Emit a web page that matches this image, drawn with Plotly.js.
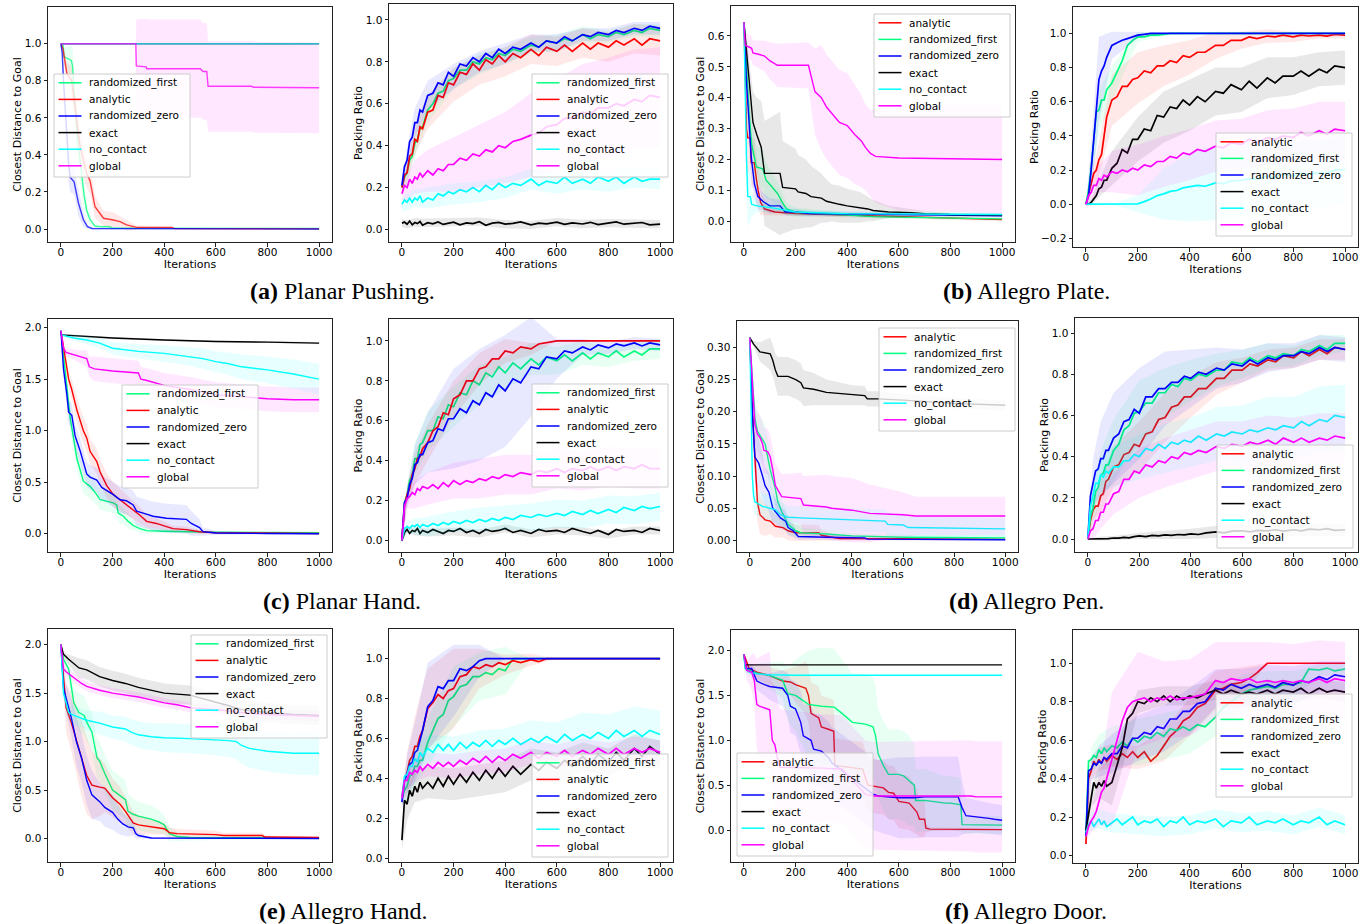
<!DOCTYPE html>
<html><head><meta charset="utf-8">
<script src="https://cdn.plot.ly/plotly-3.0.1.min.js"></script>
<style>html,body{margin:0;padding:0;background:#fff;}#chart{width:1371px;height:924px;}</style>
</head><body><div id="chart"></div>
<script>
// ---------------- shared grids and tick labels ----------------
const ITER = [0,10,20,30,40,50,60,70,80,100,120,140,160,180,200,225,250,275,300,325,350,375,400,430,460,500,530,560,600,630,660,700,730,760,800,830,860,900,930,960,1000];
const BAND_ITER = [0,20,50,100,200,300,400,500,600,700,800,900,1000];
const X_TICKS = [0,200,400,600,800,1000];
const X_TICK_TEXT = ['0','200','400','600','800','1000'];
const Y_TICKS_UNIT = [0,0.2,0.4,0.6,0.8,1.0];
const Y_TEXT_UNIT = ['0.0','0.2','0.4','0.6','0.8','1.0'];
const Y_TICKS_B1 = [0,0.1,0.2,0.3,0.4,0.5,0.6];
const Y_TEXT_B1 = ['0.0','0.1','0.2','0.3','0.4','0.5','0.6'];
const Y_TICKS_B2 = [-0.2,0,0.2,0.4,0.6,0.8,1.0];
const Y_TEXT_B2 = ['\u22120.2','0.0','0.2','0.4','0.6','0.8','1.0'];
const Y_TICKS_TWO = [0,0.5,1.0,1.5,2.0];
const Y_TEXT_TWO = ['0.0','0.5','1.0','1.5','2.0'];
const Y_TICKS_D1 = [0,0.05,0.10,0.15,0.20,0.25,0.30];
const Y_TEXT_D1 = ['0.00','0.05','0.10','0.15','0.20','0.25','0.30'];
const CAPTIONS = ['<b>(a)</b> Planar Pushing.','<b>(b)</b> Allegro Plate.','<b>(c)</b> Planar Hand.','<b>(d)</b> Allegro Pen.','<b>(e)</b> Allegro Hand.','<b>(f)</b> Allegro Door.'];

// ---------------- (a) Planar Pushing: distance ----------------
const a1_rf_x = [0,8,12,40,45,55,62,70,81,90,100,113,132,150,190,200,1000];
const a1_rf_y = [1.0,1.0,0.93,0.91,0.88,0.65,0.52,0.42,0.28,0.18,0.10,0.05,0.016,0.013,0.012,0.004,0.003];
const a1_rf_s = [0,0.02,0.05,0.08,0.1,0.12,0.12,0.12,0.1,0.08,0.05,0.03,0.01,0.01,0.01,0.005,0.003];
const a1_ana_x = [0,8,23,42,60,75,100,113,132,152,165,203,229,254,280,293,430,440,1000];
const a1_ana_y = [1.0,0.97,0.84,0.80,0.60,0.44,0.30,0.26,0.12,0.085,0.058,0.049,0.04,0.022,0.013,0.009,0.008,0.002,0.001];
const a1_ana_s = [0,0.03,0.06,0.08,0.1,0.1,0.08,0.07,0.06,0.05,0.04,0.04,0.03,0.03,0.02,0.01,0.005,0,0];
const a1_rz_x = [0,5,10,20,30,36,51,68,87,103,120,1000];
const a1_rz_y = [1.0,0.95,0.80,0.55,0.35,0.28,0.255,0.14,0.05,0.013,0.003,0.0];
const a1_rz_s = [0,0.03,0.08,0.1,0.1,0.08,0.07,0.07,0.04,0.01,0.005,0];
const a1_exa_x = [0,1000], a1_exa_y = [1.0,1.0], a1_exa_s = [0,0];
const a1_noc_x = [0,1000], a1_noc_y = [1.0,1.0], a1_noc_s = [0,0];
const a1_glo_x = [0,290,292,330,332,540,550,565,570,740,745,1000];
const a1_glo_y = [1.0,1.0,0.88,0.875,0.865,0.865,0.85,0.85,0.77,0.77,0.765,0.762];
const a1_glo_s = [0,0,0.25,0.26,0.265,0.265,0.26,0.26,0.245,0.245,0.245,0.245];

// ---------------- (a) Planar Pushing: packing ----------------
const a2_ana = [0.20,0.26,0.27,0.35,0.36,0.43,0.42,0.49,0.48,0.56,0.57,0.64,0.63,0.70,0.69,0.75,0.74,0.79,0.76,0.81,0.79,0.83,0.80,0.84,0.82,0.86,0.83,0.87,0.85,0.88,0.85,0.89,0.86,0.89,0.87,0.90,0.88,0.91,0.88,0.91,0.90];
const a2_rf = [0.20,0.25,0.27,0.33,0.35,0.41,0.43,0.48,0.49,0.57,0.60,0.65,0.66,0.71,0.72,0.76,0.76,0.80,0.79,0.82,0.81,0.84,0.83,0.86,0.85,0.88,0.87,0.90,0.89,0.91,0.90,0.93,0.91,0.93,0.92,0.94,0.93,0.95,0.94,0.96,0.95];
const a2_rz = [0.21,0.30,0.33,0.42,0.44,0.51,0.51,0.57,0.56,0.64,0.65,0.70,0.69,0.75,0.73,0.79,0.78,0.82,0.80,0.84,0.82,0.86,0.84,0.87,0.86,0.89,0.87,0.90,0.89,0.92,0.90,0.93,0.92,0.94,0.93,0.95,0.94,0.96,0.95,0.97,0.96];
const a2_exa = [0.030,0.035,0.025,0.040,0.022,0.033,0.028,0.038,0.020,0.032,0.027,0.036,0.024,0.030,0.035,0.022,0.031,0.028,0.037,0.020,0.030,0.034,0.025,0.029,0.036,0.022,0.030,0.027,0.035,0.024,0.031,0.026,0.034,0.023,0.030,0.036,0.025,0.028,0.033,0.022,0.025];
const a2_noc = [0.12,0.14,0.13,0.15,0.13,0.15,0.14,0.16,0.13,0.15,0.14,0.17,0.16,0.18,0.17,0.19,0.18,0.20,0.18,0.21,0.19,0.22,0.20,0.22,0.21,0.24,0.21,0.23,0.22,0.25,0.22,0.24,0.22,0.25,0.23,0.25,0.22,0.25,0.23,0.24,0.24];
const a2_glo = [0.17,0.21,0.20,0.24,0.22,0.25,0.24,0.27,0.25,0.28,0.26,0.29,0.28,0.31,0.31,0.34,0.33,0.36,0.35,0.38,0.37,0.40,0.39,0.42,0.43,0.45,0.46,0.49,0.50,0.53,0.53,0.56,0.55,0.58,0.58,0.60,0.59,0.62,0.61,0.64,0.63];
const a2_ana_sd = [0.02,0.05,0.07,0.08,0.08,0.07,0.07,0.07,0.07,0.07,0.07,0.07,0.07];
const a2_rf_sd = [0.02,0.05,0.06,0.06,0.05,0.05,0.04,0.04,0.04,0.04,0.03,0.03,0.03];
const a2_rz_sd = [0.02,0.06,0.07,0.07,0.06,0.05,0.05,0.04,0.04,0.03,0.03,0.03,0.03];
const a2_exa_sd = [0.02,0.02,0.02,0.02,0.02,0.02,0.02,0.02,0.02,0.02,0.02,0.02,0.02];
const a2_noc_sd = [0.03,0.04,0.04,0.05,0.05,0.05,0.05,0.05,0.05,0.05,0.05,0.05,0.05];
const a2_glo_sd = [0.03,0.06,0.08,0.1,0.13,0.15,0.17,0.2,0.22,0.23,0.24,0.24,0.24];

// ---------------- (b) Allegro Plate: distance ----------------
const b1_ana_x = [0,5,10,15,25,28,40,48,55,65,80,100,120,200,400,600,800,1000];
const b1_ana_y = [0.645,0.5,0.3,0.27,0.27,0.19,0.19,0.14,0.1,0.06,0.04,0.035,0.03,0.025,0.02,0.015,0.01,0.006];
const b1_ana_s = [0,0.1,0.12,0.12,0.1,0.08,0.08,0.07,0.06,0.04,0.02,0.015,0.01,0.008,0.006,0.005,0.005,0.005];
const b1_rf_x = [0,5,10,20,30,48,73,86,100,130,150,165,200,300,400,500,700,800,1000];
const b1_rf_y = [0.645,0.6,0.5,0.35,0.25,0.176,0.17,0.133,0.12,0.09,0.06,0.04,0.03,0.025,0.02,0.015,0.012,0.01,0.008];
const b1_rf_s = [0,0.03,0.06,0.08,0.08,0.07,0.06,0.06,0.05,0.04,0.03,0.02,0.015,0.01,0.008,0.006,0.005,0.005,0.005];
const b1_rz_x = [0,5,10,20,28,41,54,73,100,140,150,160,200,250,600,800,1000];
const b1_rz_y = [0.645,0.55,0.45,0.32,0.21,0.12,0.08,0.065,0.05,0.05,0.04,0.03,0.03,0.025,0.022,0.02,0.018];
const b1_rz_s = [0,0.05,0.08,0.08,0.07,0.05,0.04,0.03,0.025,0.02,0.015,0.01,0.01,0.008,0.006,0.005,0.005];
const b1_exa_x = [0,10,20,35,50,67,80,140,150,200,210,240,260,300,320,340,370,400,450,480,500,560,650,700,800,1000];
const b1_exa_y = [0.645,0.55,0.45,0.32,0.28,0.24,0.155,0.155,0.11,0.105,0.095,0.09,0.08,0.075,0.065,0.06,0.055,0.05,0.045,0.04,0.035,0.03,0.028,0.025,0.022,0.02];
const b1_exa_s = [0,0.05,0.08,0.1,0.12,0.15,0.17,0.2,0.15,0.13,0.12,0.11,0.1,0.08,0.07,0.06,0.06,0.055,0.05,0.04,0.035,0.02,0.012,0.008,0.006,0.005];
const b1_noc_x = [0,5,10,15,25,30,50,100,200,400,1000];
const b1_noc_y = [0.645,0.4,0.2,0.08,0.08,0.055,0.05,0.045,0.03,0.025,0.022];
const b1_noc_s = [0,0.15,0.12,0.1,0.08,0.04,0.02,0.015,0.01,0.008,0.006];
const b1_glo_x = [0,5,30,35,60,80,100,130,250,260,275,300,320,340,370,400,430,455,470,490,510,600,1000];
const b1_glo_y = [0.645,0.57,0.56,0.545,0.54,0.535,0.52,0.505,0.505,0.47,0.42,0.40,0.37,0.35,0.32,0.31,0.28,0.26,0.24,0.22,0.21,0.205,0.2];
const b1_glo_s = [0,0.04,0.04,0.04,0.045,0.05,0.06,0.07,0.075,0.1,0.14,0.17,0.17,0.17,0.17,0.17,0.16,0.15,0.14,0.14,0.15,0.17,0.175];

// ---------------- (b) Allegro Plate: packing ----------------
const b2_ana = [0.0,0.06,0.11,0.18,0.20,0.26,0.29,0.41,0.51,0.61,0.63,0.69,0.69,0.73,0.74,0.78,0.77,0.81,0.81,0.84,0.83,0.87,0.86,0.89,0.89,0.93,0.93,0.96,0.96,0.98,0.97,0.985,0.98,0.99,0.98,0.99,0.985,0.99,0.985,0.995,0.99];
const b2_rf = [0,0.08,0.21,0.37,0.54,0.55,0.61,0.61,0.67,0.71,0.78,0.84,0.93,0.96,0.98,0.98,0.99,0.99,0.995,1,1,1,1,1,1,1,1,1,1,1,1,1,1,1,1,1,1,1,1,1,1];
const b2_rz = [0,0.05,0.2,0.38,0.56,0.73,0.78,0.81,0.86,0.93,0.945,0.96,0.97,0.98,0.99,0.995,1,1,1,1,1,1,1,1,1,1,1,1,1,1,1,1,1,1,1,1,1,1,1,1,1];
const b2_exa = [0,0,0.01,0.03,0.05,0.09,0.10,0.14,0.14,0.21,0.24,0.32,0.30,0.38,0.38,0.44,0.43,0.52,0.51,0.57,0.56,0.61,0.58,0.63,0.60,0.66,0.65,0.70,0.67,0.72,0.68,0.74,0.71,0.75,0.75,0.78,0.75,0.79,0.77,0.81,0.80];
const b2_noc = [0,0,0,0,0,0,0,0,0,0,0,0,0,0,0.002,0.015,0.03,0.05,0.06,0.075,0.08,0.095,0.10,0.11,0.105,0.125,0.12,0.135,0.14,0.15,0.145,0.165,0.16,0.175,0.165,0.18,0.175,0.185,0.18,0.20,0.20];
const b2_glo = [0,0.05,0.07,0.11,0.11,0.15,0.14,0.17,0.16,0.19,0.18,0.20,0.19,0.21,0.20,0.23,0.22,0.25,0.25,0.28,0.27,0.30,0.29,0.32,0.31,0.34,0.33,0.36,0.35,0.38,0.36,0.39,0.38,0.40,0.39,0.42,0.40,0.43,0.41,0.44,0.43];
const b2_ana_sd = [0.01,0.05,0.1,0.15,0.15,0.12,0.1,0.08,0.05,0.04,0.03,0.02,0.02];
const b2_rf_sd = [0.01,0.08,0.12,0.1,0.03,0.01,0,0,0,0,0,0,0];
const b2_rz_sd = [0.01,0.15,0.25,0.08,0.02,0,0,0,0,0,0,0,0];
const b2_exa_sd = [0.01,0.02,0.05,0.1,0.13,0.15,0.15,0.14,0.13,0.12,0.11,0.1,0.1];
const b2_noc_sd = [0,0,0,0,0.05,0.15,0.2,0.22,0.22,0.2,0.2,0.2,0.2];
const b2_glo_sd = [0.02,0.05,0.08,0.12,0.15,0.15,0.15,0.15,0.15,0.16,0.17,0.17,0.17];

// ---------------- (c) Planar Hand: distance ----------------
const c1_rf_x = [0,10,20,36,62,87,113,139,152,203,216,222,242,261,280,306,332,400,600,1000];
const c1_rf_y = [1.97,1.7,1.5,1.12,0.73,0.51,0.46,0.38,0.33,0.3,0.28,0.2,0.17,0.12,0.08,0.05,0.03,0.025,0.015,0.01];
const c1_rf_s = [0,0.05,0.1,0.12,0.12,0.12,0.12,0.1,0.1,0.1,0.1,0.09,0.08,0.07,0.05,0.04,0.03,0.02,0.01,0.01];
const c1_ana_x = [0,17,30,42,62,87,100,113,139,152,177,203,229,254,280,306,332,370,409,434,486,537,600,800,1000];
const c1_ana_y = [1.97,1.72,1.5,1.4,1.2,1.0,0.93,0.8,0.7,0.6,0.47,0.38,0.33,0.28,0.23,0.18,0.12,0.1,0.07,0.05,0.04,0.02,0.01,0.005,0.003];
const c1_ana_s = [0,0.05,0.08,0.1,0.12,0.13,0.13,0.12,0.12,0.12,0.12,0.12,0.11,0.1,0.09,0.08,0.06,0.05,0.04,0.03,0.03,0.02,0.01,0.005,0.003];
const c1_rz_x = [0,10,23,30,42,55,75,87,100,113,139,158,177,203,229,254,280,293,319,357,409,486,505,537,550,600,800,1000];
const c1_rz_y = [1.97,1.6,1.35,1.18,1.15,0.95,0.8,0.7,0.58,0.55,0.52,0.45,0.42,0.38,0.33,0.32,0.28,0.22,0.2,0.17,0.15,0.14,0.1,0.06,0.02,0.008,0.002,0.0];
const c1_rz_s = [0,0.08,0.12,0.12,0.12,0.12,0.12,0.12,0.12,0.12,0.12,0.12,0.12,0.12,0.13,0.13,0.14,0.14,0.14,0.14,0.14,0.14,0.12,0.08,0.04,0.02,0.005,0];
const c1_exa_x = [0,200,400,600,800,1000];
const c1_exa_y = [1.93,1.9,1.88,1.865,1.86,1.85];
const c1_exa_s = [0.01,0.01,0.01,0.01,0.01,0.01];
const c1_noc_x = [0,50,100,150,200,300,400,500,550,600,650,700,800,900,1000];
const c1_noc_y = [1.93,1.9,1.88,1.85,1.8,1.77,1.75,1.72,1.7,1.67,1.65,1.62,1.59,1.55,1.5];
const c1_noc_s = [0.01,0.03,0.04,0.05,0.06,0.07,0.08,0.09,0.1,0.1,0.11,0.12,0.13,0.14,0.15];
const c1_glo_x = [0,10,20,50,70,100,110,130,200,250,300,310,330,400,450,500,600,700,800,900,1000];
const c1_glo_y = [1.97,1.8,1.76,1.74,1.72,1.70,1.62,1.6,1.58,1.57,1.56,1.5,1.49,1.44,1.42,1.4,1.35,1.33,1.31,1.3,1.3];
const c1_glo_s = [0,0.03,0.04,0.05,0.06,0.08,0.1,0.12,0.12,0.12,0.12,0.12,0.12,0.12,0.12,0.12,0.12,0.12,0.12,0.12,0.12];

// ---------------- (c) Planar Hand: packing ----------------
const c2_ana = [0,0.18,0.23,0.26,0.33,0.36,0.41,0.42,0.46,0.49,0.55,0.57,0.64,0.63,0.71,0.73,0.80,0.80,0.86,0.87,0.91,0.91,0.95,0.94,0.97,0.96,0.985,0.99,1,1,1,1,1,1,1,1,1,1,1,1,1];
const c2_rf = [0,0.19,0.23,0.30,0.33,0.41,0.41,0.48,0.49,0.55,0.55,0.62,0.61,0.68,0.67,0.74,0.73,0.80,0.78,0.84,0.82,0.87,0.84,0.89,0.86,0.91,0.88,0.92,0.90,0.93,0.90,0.94,0.91,0.94,0.92,0.95,0.92,0.95,0.93,0.96,0.96];
const c2_rz = [0,0.19,0.21,0.28,0.31,0.38,0.39,0.43,0.43,0.49,0.50,0.56,0.55,0.61,0.61,0.66,0.64,0.70,0.68,0.74,0.72,0.78,0.75,0.81,0.79,0.87,0.86,0.92,0.91,0.95,0.94,0.97,0.955,0.98,0.965,0.985,0.975,0.99,0.975,0.99,0.98];
const c2_exa = [0,0.040,0.055,0.035,0.050,0.045,0.060,0.035,0.050,0.040,0.055,0.045,0.035,0.050,0.045,0.060,0.040,0.050,0.035,0.055,0.045,0.050,0.060,0.040,0.050,0.035,0.055,0.045,0.050,0.040,0.060,0.045,0.035,0.050,0.030,0.055,0.045,0.050,0.040,0.060,0.050];
const c2_noc = [0,0.06,0.07,0.06,0.075,0.07,0.08,0.065,0.08,0.07,0.085,0.075,0.09,0.08,0.095,0.085,0.10,0.09,0.105,0.095,0.11,0.10,0.115,0.105,0.125,0.115,0.13,0.12,0.135,0.125,0.145,0.13,0.15,0.135,0.155,0.14,0.165,0.15,0.17,0.16,0.17];
const c2_glo = [0,0.17,0.21,0.22,0.24,0.23,0.26,0.25,0.27,0.26,0.28,0.26,0.29,0.27,0.30,0.28,0.30,0.29,0.31,0.30,0.32,0.31,0.33,0.32,0.34,0.33,0.35,0.34,0.36,0.34,0.36,0.35,0.37,0.35,0.37,0.35,0.37,0.36,0.38,0.36,0.36];
const c2_ana_sd = [0.01,0.05,0.08,0.09,0.09,0.08,0.06,0.03,0,0,0,0,0];
const c2_rf_sd = [0.01,0.05,0.08,0.1,0.1,0.1,0.08,0.08,0.07,0.06,0.05,0.05,0.05];
const c2_rz_sd = [0.01,0.05,0.1,0.15,0.25,0.28,0.28,0.25,0.1,0.04,0.03,0.03,0.03];
const c2_exa_sd = [0.01,0.015,0.02,0.02,0.02,0.02,0.02,0.02,0.02,0.02,0.02,0.02,0.02];
const c2_noc_sd = [0.01,0.03,0.04,0.05,0.05,0.06,0.06,0.07,0.07,0.07,0.07,0.07,0.07];
const c2_glo_sd = [0.02,0.05,0.07,0.08,0.09,0.1,0.1,0.1,0.1,0.1,0.1,0.1,0.1];

// ---------------- (d) Allegro Pen: distance ----------------
const d1_ana_x = [0,10,20,30,40,60,80,100,130,150,180,270,280,350,1000];
const d1_ana_y = [0.315,0.2,0.13,0.06,0.04,0.032,0.03,0.022,0.02,0.015,0.012,0.012,0.008,0.003,0.002];
const d1_ana_s = [0,0.03,0.04,0.03,0.03,0.025,0.02,0.018,0.015,0.015,0.013,0.012,0.008,0.003,0.002];
const d1_rf_x = [0,10,20,30,50,60,70,80,100,110,125,150,180,200,300,400,600,1000];
const d1_rf_y = [0.315,0.25,0.19,0.17,0.155,0.15,0.13,0.11,0.08,0.06,0.045,0.025,0.015,0.012,0.01,0.007,0.005,0.004];
const d1_rf_s = [0,0.02,0.03,0.03,0.03,0.03,0.03,0.03,0.025,0.02,0.018,0.015,0.01,0.008,0.006,0.005,0.004,0.004];
const d1_rz_x = [0,10,20,35,50,60,75,90,100,120,140,150,170,190,300,450,460,1000];
const d1_rz_y = [0.315,0.2,0.13,0.12,0.1,0.085,0.075,0.05,0.045,0.035,0.03,0.02,0.015,0.006,0.005,0.004,0.002,0.001];
const d1_rz_s = [0,0.03,0.04,0.04,0.035,0.03,0.03,0.025,0.02,0.018,0.015,0.012,0.01,0.005,0.004,0.003,0.002,0.001];
const d1_exa_x = [0,15,40,80,90,100,110,150,180,200,210,250,300,400,450,460,500,600,700,800,1000];
const d1_exa_y = [0.315,0.305,0.293,0.29,0.28,0.265,0.255,0.255,0.25,0.245,0.237,0.235,0.23,0.226,0.225,0.22,0.22,0.218,0.215,0.213,0.21];
const d1_exa_s = [0,0.005,0.015,0.025,0.025,0.025,0.03,0.03,0.03,0.03,0.028,0.025,0.02,0.015,0.015,0.012,0.012,0.01,0.01,0.008,0.008];
const d1_noc_x = [0,5,10,15,20,50,100,120,150,200,400,530,540,600,620,1000];
const d1_noc_y = [0.315,0.2,0.1,0.07,0.06,0.053,0.048,0.04,0.036,0.035,0.032,0.03,0.025,0.024,0.02,0.018];
const d1_noc_s = [0,0.02,0.02,0.02,0.02,0.02,0.02,0.02,0.018,0.018,0.018,0.018,0.018,0.017,0.017,0.017];
const d1_glo_x = [0,10,20,30,40,50,55,70,80,90,100,115,125,200,210,300,320,400,470,600,650,1000];
const d1_glo_y = [0.315,0.25,0.18,0.165,0.16,0.15,0.14,0.138,0.13,0.11,0.085,0.075,0.068,0.065,0.055,0.052,0.05,0.047,0.042,0.04,0.038,0.038];
const d1_glo_s = [0,0.02,0.03,0.035,0.035,0.035,0.035,0.035,0.035,0.035,0.035,0.035,0.035,0.04,0.045,0.05,0.05,0.05,0.045,0.035,0.03,0.03];

// ---------------- (d) Allegro Pen: packing ----------------
const d2_ana = [0,0.09,0.14,0.16,0.16,0.21,0.22,0.28,0.29,0.35,0.36,0.41,0.42,0.46,0.45,0.51,0.52,0.58,0.59,0.64,0.65,0.69,0.69,0.73,0.73,0.78,0.78,0.82,0.82,0.85,0.84,0.87,0.86,0.89,0.88,0.91,0.89,0.92,0.90,0.93,0.92];
const d2_rf = [0,0.11,0.15,0.23,0.25,0.31,0.32,0.36,0.36,0.43,0.46,0.53,0.55,0.61,0.62,0.66,0.66,0.71,0.71,0.75,0.74,0.78,0.77,0.80,0.79,0.82,0.82,0.86,0.85,0.88,0.86,0.89,0.88,0.90,0.89,0.92,0.91,0.94,0.92,0.95,0.95];
const d2_rz = [0,0.21,0.27,0.33,0.34,0.39,0.39,0.43,0.43,0.49,0.51,0.57,0.58,0.63,0.61,0.69,0.69,0.73,0.73,0.76,0.76,0.79,0.78,0.81,0.80,0.83,0.82,0.85,0.84,0.87,0.85,0.88,0.87,0.89,0.89,0.91,0.90,0.93,0.91,0.93,0.92];
const d2_exa = [0,0,0,0,0,0.002,0,0.003,0.002,0.005,0.004,0.008,0.006,0.012,0.015,0.012,0.018,0.015,0.020,0.018,0.022,0.020,0.025,0.022,0.030,0.035,0.030,0.038,0.040,0.035,0.042,0.040,0.045,0.038,0.045,0.040,0.048,0.045,0.050,0.042,0.045];
const d2_noc = [0,0.16,0.21,0.27,0.27,0.31,0.30,0.33,0.32,0.35,0.35,0.38,0.38,0.41,0.40,0.44,0.43,0.46,0.44,0.47,0.46,0.48,0.47,0.50,0.48,0.51,0.50,0.52,0.51,0.53,0.52,0.54,0.53,0.55,0.54,0.57,0.55,0.58,0.57,0.60,0.59];
const d2_glo = [0,0.04,0.05,0.09,0.09,0.13,0.13,0.17,0.17,0.22,0.23,0.29,0.29,0.33,0.32,0.36,0.35,0.38,0.37,0.40,0.39,0.42,0.41,0.43,0.42,0.45,0.44,0.46,0.45,0.47,0.46,0.48,0.46,0.49,0.47,0.49,0.47,0.49,0.48,0.50,0.49];
const d2_ana_sd = [0.01,0.05,0.08,0.1,0.12,0.12,0.1,0.08,0.06,0.05,0.05,0.05,0.05];
const d2_rf_sd = [0.01,0.08,0.12,0.15,0.15,0.12,0.1,0.08,0.07,0.06,0.05,0.05,0.04];
const d2_rz_sd = [0.01,0.12,0.18,0.22,0.22,0.18,0.14,0.1,0.08,0.07,0.06,0.06,0.06];
const d2_exa_sd = [0,0.005,0.01,0.01,0.015,0.02,0.025,0.03,0.03,0.03,0.03,0.03,0.03];
const d2_noc_sd = [0.01,0.06,0.08,0.1,0.11,0.12,0.12,0.13,0.14,0.15,0.15,0.16,0.16];
const d2_glo_sd = [0.01,0.05,0.08,0.1,0.12,0.12,0.12,0.12,0.12,0.12,0.12,0.12,0.12];

// ---------------- (e) Allegro Hand: distance ----------------
const e1_rf_x = [0,10,30,40,50,70,90,100,120,140,150,170,200,220,250,260,280,300,350,380,400,420,450,500,1000];
const e1_rf_y = [2.0,1.85,1.75,1.55,1.4,1.3,1.27,1.2,1.1,0.83,0.8,0.67,0.5,0.46,0.4,0.28,0.25,0.23,0.2,0.17,0.14,0.05,0.02,0.01,0.005];
const e1_rf_s = [0,0.05,0.1,0.15,0.15,0.2,0.2,0.2,0.2,0.2,0.2,0.2,0.2,0.2,0.2,0.18,0.16,0.15,0.14,0.12,0.1,0.08,0.05,0.03,0.01];
const e1_ana_x = [0,10,20,40,60,80,100,120,150,170,200,230,250,280,300,350,400,420,450,600,630,780,790,1000];
const e1_ana_y = [2.0,1.7,1.35,1.2,1.0,0.83,0.65,0.55,0.53,0.52,0.42,0.35,0.28,0.16,0.14,0.12,0.1,0.06,0.05,0.04,0.03,0.03,0.015,0.01];
const e1_ana_s = [0,0.15,0.25,0.3,0.35,0.4,0.4,0.35,0.3,0.25,0.2,0.18,0.15,0.12,0.1,0.08,0.06,0.05,0.05,0.04,0.03,0.03,0.015,0.01];
const e1_rz_x = [0,10,20,40,60,80,100,120,150,170,200,220,240,260,280,290,300,350,1000];
const e1_rz_y = [2.0,1.55,1.45,1.25,1.0,0.83,0.6,0.45,0.38,0.32,0.27,0.2,0.15,0.12,0.11,0.05,0.03,0.005,0.0];
const e1_rz_s = [0,0.1,0.15,0.2,0.25,0.25,0.25,0.25,0.2,0.2,0.18,0.15,0.12,0.1,0.08,0.05,0.03,0.01,0];
const e1_exa_x = [0,10,30,50,70,100,130,150,200,250,300,350,400,500,600,650,700,800,900,1000];
const e1_exa_y = [2.0,1.9,1.85,1.8,1.76,1.74,1.7,1.67,1.63,1.6,1.56,1.53,1.5,1.48,1.41,1.37,1.33,1.3,1.28,1.27];
const e1_exa_s = [0,0.03,0.05,0.08,0.1,0.1,0.1,0.1,0.1,0.1,0.1,0.1,0.1,0.1,0.1,0.1,0.1,0.1,0.1,0.1];
const e1_noc_x = [0,10,30,50,100,150,200,250,270,300,350,400,500,600,650,680,700,730,750,800,900,1000];
const e1_noc_y = [2.0,1.5,1.3,1.27,1.22,1.19,1.15,1.13,1.1,1.07,1.05,1.04,1.03,1.02,1.01,1.0,0.96,0.93,0.92,0.9,0.88,0.88];
const e1_noc_s = [0,0.05,0.08,0.1,0.1,0.12,0.12,0.13,0.13,0.14,0.14,0.15,0.15,0.16,0.17,0.18,0.19,0.2,0.2,0.21,0.22,0.23];
const e1_glo_x = [0,10,20,50,80,100,150,200,250,300,350,400,450,500,600,700,800,900,1000];
const e1_glo_y = [2.0,1.75,1.72,1.66,1.6,1.57,1.53,1.5,1.48,1.46,1.43,1.4,1.38,1.35,1.33,1.3,1.28,1.27,1.26];
const e1_glo_s = [0,0.03,0.04,0.05,0.05,0.05,0.05,0.05,0.05,0.05,0.05,0.05,0.05,0.05,0.05,0.05,0.05,0.05,0.05];

// ---------------- (e) Allegro Hand: packing ----------------
const e2_ana = [0.30,0.39,0.43,0.49,0.51,0.56,0.56,0.61,0.64,0.75,0.78,0.82,0.80,0.84,0.85,0.91,0.92,0.96,0.95,0.97,0.96,0.98,0.97,0.99,0.98,0.995,0.985,1,1,1,1,1,1,1,1,1,1,1,1,1,1];
const e2_rf = [0.30,0.34,0.36,0.41,0.42,0.46,0.46,0.49,0.49,0.58,0.64,0.70,0.72,0.79,0.81,0.86,0.87,0.91,0.91,0.93,0.92,0.95,0.94,1,1,1,1,1,1,1,1,1,1,1,1,1,1,1,1,1,1];
const e2_rz = [0.28,0.39,0.42,0.47,0.48,0.53,0.54,0.59,0.64,0.76,0.79,0.86,0.85,0.89,0.89,0.95,0.94,0.96,0.99,1,1,1,1,1,1,1,1,1,1,1,1,1,1,1,1,1,1,1,1,1,1];
const e2_exa = [0.09,0.29,0.27,0.34,0.31,0.36,0.33,0.38,0.35,0.38,0.35,0.40,0.36,0.41,0.37,0.42,0.38,0.43,0.39,0.44,0.40,0.45,0.41,0.46,0.42,0.47,0.44,0.48,0.45,0.49,0.46,0.51,0.47,0.52,0.48,0.53,0.49,0.55,0.51,0.56,0.52];
const e2_noc = [0.30,0.41,0.42,0.46,0.46,0.50,0.48,0.53,0.51,0.55,0.53,0.57,0.54,0.57,0.54,0.58,0.55,0.58,0.56,0.59,0.56,0.59,0.57,0.60,0.57,0.60,0.58,0.61,0.58,0.62,0.59,0.62,0.60,0.63,0.60,0.64,0.61,0.64,0.61,0.64,0.62];
const e2_glo = [0.30,0.39,0.39,0.43,0.42,0.44,0.43,0.46,0.44,0.47,0.45,0.48,0.46,0.48,0.46,0.49,0.47,0.50,0.48,0.51,0.48,0.51,0.49,0.52,0.50,0.53,0.50,0.53,0.51,0.54,0.51,0.54,0.52,0.55,0.52,0.55,0.52,0.55,0.53,0.55,0.53];
const e2_ana_sd = [0.03,0.1,0.15,0.2,0.2,0.1,0.05,0.03,0,0,0,0,0];
const e2_rf_sd = [0.03,0.08,0.1,0.12,0.15,0.12,0.12,0,0,0,0,0,0];
const e2_rz_sd = [0.03,0.1,0.15,0.22,0.18,0.08,0,0,0,0,0,0,0];
const e2_exa_sd = [0.05,0.08,0.08,0.08,0.08,0.08,0.08,0.08,0.08,0.07,0.07,0.07,0.07];
const e2_noc_sd = [0.03,0.05,0.06,0.07,0.07,0.08,0.08,0.09,0.1,0.11,0.12,0.12,0.12];
const e2_glo_sd = [0.03,0.05,0.06,0.06,0.06,0.06,0.06,0.06,0.06,0.06,0.06,0.06,0.06];

// ---------------- (f) Allegro Door: distance ----------------
const f1_ana_x = [0,20,50,100,150,180,200,220,240,250,260,290,300,330,348,352,460,480,520,540,560,580,600,640,670,680,700,705,720,1000];
const f1_ana_y = [1.96,1.8,1.76,1.72,1.66,1.65,1.62,1.6,1.58,1.5,1.3,1.25,1.15,1.12,1.1,0.72,0.68,0.5,0.48,0.47,0.42,0.41,0.32,0.3,0.2,0.12,0.12,0.02,0.01,0.005];
const f1_ana_s = [0,0.05,0.08,0.1,0.12,0.15,0.2,0.25,0.3,0.3,0.35,0.35,0.35,0.35,0.35,0.3,0.3,0.3,0.3,0.3,0.3,0.3,0.3,0.3,0.25,0.2,0.2,0.05,0.02,0.01];
const f1_rf_x = [0,5,50,100,150,170,200,250,300,350,380,420,470,500,510,520,540,560,600,620,640,660,665,700,780,800,840,845,1000];
const f1_rf_y = [1.96,1.8,1.75,1.72,1.67,1.52,1.5,1.4,1.38,1.37,1.3,1.2,1.18,1.15,1.05,0.85,0.72,0.62,0.62,0.6,0.55,0.5,0.33,0.33,0.3,0.3,0.28,0.06,0.055];
const f1_rf_s = [0,0.05,0.1,0.15,0.2,0.3,0.4,0.6,0.65,0.65,0.6,0.55,0.55,0.55,0.55,0.5,0.5,0.5,0.5,0.5,0.5,0.45,0.35,0.35,0.3,0.3,0.3,0.1,0.1];
const f1_rz_x = [0,10,30,50,80,100,150,170,180,200,220,230,260,270,300,330,340,480,500,520,600,660,700,830,845,860,900,950,970,1000];
const f1_rz_y = [1.96,1.8,1.8,1.66,1.62,1.6,1.58,1.5,1.38,1.35,1.2,1.05,1.0,0.9,0.88,0.8,0.75,0.45,0.4,0.38,0.36,0.36,0.37,0.37,0.25,0.16,0.15,0.13,0.12,0.11];
const f1_rz_s = [0,0.05,0.05,0.1,0.12,0.15,0.2,0.25,0.3,0.3,0.35,0.35,0.4,0.4,0.4,0.4,0.4,0.4,0.4,0.4,0.45,0.45,0.45,0.45,0.3,0.2,0.18,0.17,0.17,0.17];
const f1_exa_x = [0,5,1000], f1_exa_y = [1.96,1.84,1.84], f1_exa_s = [0,0,0];
const f1_noc_x = [0,5,20,50,100,200,1000];
const f1_noc_y = [1.96,1.8,1.76,1.74,1.73,1.725,1.725];
const f1_noc_s = [0,0,0,0,0,0,0];
const f1_glo_x = [0,10,30,40,50,60,80,100,110,120,130,140,300,380,470,500,880,900,1000];
const f1_glo_y = [1.96,1.78,1.76,1.67,1.4,1.38,1.36,1.34,1.0,0.95,0.8,0.7,0.69,0.68,0.4,0.38,0.38,0.37,0.37];
const f1_glo_s = [0,0.1,0.2,0.3,0.5,0.55,0.6,0.65,0.65,0.65,0.65,0.65,0.6,0.6,0.6,0.6,0.62,0.62,0.62];

// ---------------- (f) Allegro Door: packing ----------------
const f2_ana = [0.06,0.40,0.44,0.49,0.47,0.50,0.48,0.51,0.49,0.52,0.50,0.53,0.51,0.54,0.51,0.54,0.49,0.52,0.57,0.62,0.65,0.70,0.72,0.77,0.79,0.86,0.87,0.89,0.90,0.92,0.95,1,1,1,1,1,1,1,1,1,1];
const f2_rf = [0.10,0.49,0.50,0.52,0.51,0.55,0.53,0.56,0.54,0.57,0.56,0.59,0.57,0.61,0.59,0.62,0.61,0.64,0.62,0.66,0.65,0.67,0.65,0.68,0.67,0.72,0.77,0.80,0.84,0.86,0.87,0.88,0.87,0.89,0.89,0.90,0.97,0.965,0.975,0.96,0.97];
const f2_rz = [0.10,0.44,0.45,0.48,0.47,0.49,0.48,0.51,0.50,0.53,0.53,0.57,0.56,0.61,0.61,0.64,0.63,0.67,0.66,0.71,0.71,0.75,0.75,0.79,0.80,0.87,0.86,0.89,0.87,0.89,0.875,0.89,0.875,0.90,0.885,0.91,0.90,0.93,0.915,0.94,0.93];
const f2_exa = [0.13,0.21,0.30,0.38,0.35,0.38,0.36,0.39,0.36,0.38,0.47,0.56,0.71,0.74,0.80,0.79,0.82,0.80,0.83,0.80,0.83,0.81,0.83,0.82,0.84,0.86,0.84,0.86,0.84,0.85,0.84,0.86,0.84,0.86,0.85,0.87,0.84,0.87,0.85,0.86,0.85];
const f2_noc = [0.12,0.16,0.18,0.15,0.17,0.19,0.16,0.18,0.15,0.17,0.19,0.16,0.18,0.20,0.16,0.18,0.17,0.19,0.15,0.18,0.17,0.20,0.16,0.18,0.17,0.19,0.15,0.18,0.17,0.20,0.16,0.18,0.17,0.19,0.16,0.18,0.17,0.20,0.16,0.18,0.16];
const f2_glo = [0.10,0.15,0.18,0.20,0.23,0.28,0.33,0.35,0.40,0.50,0.60,0.70,0.77,0.80,0.81,0.82,0.80,0.82,0.81,0.83,0.81,0.82,0.82,0.83,0.84,0.91,0.90,0.92,0.91,0.92,0.90,0.91,0.90,0.91,0.90,0.91,0.90,0.92,0.90,0.92,0.91];
const f2_ana_sd = [0.02,0.05,0.06,0.06,0.06,0.08,0.1,0.1,0.08,0,0,0,0];
const f2_rf_sd = [0.02,0.06,0.08,0.1,0.12,0.12,0.12,0.1,0.1,0.08,0.07,0.03,0.03];
const f2_rz_sd = [0.02,0.06,0.08,0.1,0.12,0.12,0.12,0.1,0.1,0.1,0.1,0.08,0.08];
const f2_exa_sd = [0.03,0.05,0.08,0.12,0.06,0.05,0.05,0.05,0.05,0.05,0.05,0.05,0.05];
const f2_noc_sd = [0.03,0.05,0.05,0.05,0.05,0.05,0.05,0.05,0.05,0.05,0.05,0.05,0.05];
const f2_glo_sd = [0.03,0.06,0.12,0.35,0.25,0.2,0.2,0.2,0.2,0.2,0.2,0.2,0.2];

// ---------------- styling & panel configuration ----------------
const W = 1371, H = 924;
const COLORS = {analytic:'#ff0000', randomized_first:'#00ff7f', randomized_zero:'#0000ff', exact:'#000000', no_contact:'#00ffff', global:'#ff00ff'};
const ORDER_A = ['randomized_first','analytic','randomized_zero','exact','no_contact','global'];
const ORDER_B = ['analytic','randomized_first','randomized_zero','exact','no_contact','global'];
const DIST_T = 'Closest Distance to Goal', PACK_T = 'Packing Ratio';

function D(x,y,s){return {x:x,y:y,s:s};}
function P(m,sd){return {m:m,sd:sd};}

const PANELS = [
 {frame:[48,332,7,242], yr:[-0.07,1.198], yt:Y_TICKS_UNIT, ytt:Y_TEXT_UNIT, title:DIST_T, order:ORDER_A, leg:[54,74], kind:'dist', alpha:0.75,
  s:{randomized_first:D(a1_rf_x,a1_rf_y,a1_rf_s), analytic:D(a1_ana_x,a1_ana_y,a1_ana_s), randomized_zero:D(a1_rz_x,a1_rz_y,a1_rz_s), exact:D(a1_exa_x,a1_exa_y,a1_exa_s), no_contact:D(a1_noc_x,a1_noc_y,a1_noc_s), global:D(a1_glo_x,a1_glo_y,a1_glo_s)}},
 {frame:[389,673,4,242], yr:[-0.06,1.076], yt:Y_TICKS_UNIT, ytt:Y_TEXT_UNIT, title:PACK_T, order:ORDER_A, leg:[532,74], kind:'pack',
  s:{randomized_first:P(a2_rf,a2_rf_sd), analytic:P(a2_ana,a2_ana_sd), randomized_zero:P(a2_rz,a2_rz_sd), exact:P(a2_exa,a2_exa_sd), no_contact:P(a2_noc,a2_noc_sd), global:P(a2_glo,a2_glo_sd)}},
 {frame:[731,1015,6,242], yr:[-0.067,0.697], yt:Y_TICKS_B1, ytt:Y_TEXT_B1, title:DIST_T, order:ORDER_B, leg:[874,14], kind:'dist',
  s:{randomized_first:D(b1_rf_x,b1_rf_y,b1_rf_s), analytic:D(b1_ana_x,b1_ana_y,b1_ana_s), randomized_zero:D(b1_rz_x,b1_rz_y,b1_rz_s), exact:D(b1_exa_x,b1_exa_y,b1_exa_s), no_contact:D(b1_noc_x,b1_noc_y,b1_noc_s), global:D(b1_glo_x,b1_glo_y,b1_glo_s)}},
 {frame:[1073,1358,7,247], yr:[-0.251,1.155], yt:Y_TICKS_B2, ytt:Y_TEXT_B2, title:PACK_T, order:ORDER_B, leg:[1216,133], kind:'pack',
  s:{randomized_first:P(b2_rf,b2_rf_sd), analytic:P(b2_ana,b2_ana_sd), randomized_zero:P(b2_rz,b2_rz_sd), exact:P(b2_exa,b2_exa_sd), no_contact:P(b2_noc,b2_noc_sd), global:P(b2_glo,b2_glo_sd)}},
 {frame:[48,332,319,552], yr:[-0.177,2.084], yt:Y_TICKS_TWO, ytt:Y_TEXT_TWO, title:DIST_T, order:ORDER_A, leg:[122,385], kind:'dist',
  s:{randomized_first:D(c1_rf_x,c1_rf_y,c1_rf_s), analytic:D(c1_ana_x,c1_ana_y,c1_ana_s), randomized_zero:D(c1_rz_x,c1_rz_y,c1_rz_s), exact:D(c1_exa_x,c1_exa_y,c1_exa_s), no_contact:D(c1_noc_x,c1_noc_y,c1_noc_s), global:D(c1_glo_x,c1_glo_y,c1_glo_s)}},
 {frame:[389,673,319,552], yr:[-0.058,1.11], yt:Y_TICKS_UNIT, ytt:Y_TEXT_UNIT, title:PACK_T, order:ORDER_A, leg:[532,384], kind:'pack',
  s:{randomized_first:P(c2_rf,c2_rf_sd), analytic:P(c2_ana,c2_ana_sd), randomized_zero:P(c2_rz,c2_rz_sd), exact:P(c2_exa,c2_exa_sd), no_contact:P(c2_noc,c2_noc_sd), global:P(c2_glo,c2_glo_sd)}},
 {frame:[737,1018,321,552], yr:[-0.018,0.341], yt:Y_TICKS_D1, ytt:Y_TEXT_D1, title:DIST_T, order:ORDER_B, leg:[879,328], kind:'dist',
  s:{randomized_first:D(d1_rf_x,d1_rf_y,d1_rf_s), analytic:D(d1_ana_x,d1_ana_y,d1_ana_s), randomized_zero:D(d1_rz_x,d1_rz_y,d1_rz_s), exact:D(d1_exa_x,d1_exa_y,d1_exa_s), no_contact:D(d1_noc_x,d1_noc_y,d1_noc_s), global:D(d1_glo_x,d1_glo_y,d1_glo_s)}},
 {frame:[1075,1358,318,552], yr:[-0.063,1.073], yt:Y_TICKS_UNIT, ytt:Y_TEXT_UNIT, title:PACK_T, order:ORDER_B, leg:[1217,445], kind:'pack',
  s:{randomized_first:P(d2_rf,d2_rf_sd), analytic:P(d2_ana,d2_ana_sd), randomized_zero:P(d2_rz,d2_rz_sd), exact:P(d2_exa,d2_exa_sd), no_contact:P(d2_noc,d2_noc_sd), global:P(d2_glo,d2_glo_sd)}},
 {frame:[48,332,629,862], yr:[-0.243,2.162], yt:Y_TICKS_TWO, ytt:Y_TEXT_TWO, title:DIST_T, order:ORDER_A, leg:[191,635], kind:'dist',
  s:{randomized_first:D(e1_rf_x,e1_rf_y,e1_rf_s), analytic:D(e1_ana_x,e1_ana_y,e1_ana_s), randomized_zero:D(e1_rz_x,e1_rz_y,e1_rz_s), exact:D(e1_exa_x,e1_exa_y,e1_exa_s), no_contact:D(e1_noc_x,e1_noc_y,e1_noc_s), global:D(e1_glo_x,e1_glo_y,e1_glo_s)}},
 {frame:[389,673,629,862], yr:[-0.02,1.149], yt:Y_TICKS_UNIT, ytt:Y_TEXT_UNIT, title:PACK_T, order:ORDER_A, leg:[532,754], kind:'pack',
  s:{randomized_first:P(e2_rf,e2_rf_sd), analytic:P(e2_ana,e2_ana_sd), randomized_zero:P(e2_rz,e2_rz_sd), exact:P(e2_exa,e2_exa_sd), no_contact:P(e2_noc,e2_noc_sd), global:P(e2_glo,e2_glo_sd)}},
 {frame:[731,1015,630,862], yr:[-0.356,2.229], yt:Y_TICKS_TWO, ytt:Y_TEXT_TWO, title:DIST_T, order:ORDER_B, leg:[737,753], kind:'dist',
  s:{randomized_first:D(f1_rf_x,f1_rf_y,f1_rf_s), analytic:D(f1_ana_x,f1_ana_y,f1_ana_s), randomized_zero:D(f1_rz_x,f1_rz_y,f1_rz_s), exact:D(f1_exa_x,f1_exa_y,f1_exa_s), no_contact:D(f1_noc_x,f1_noc_y,f1_noc_s), global:D(f1_glo_x,f1_glo_y,f1_glo_s)}},
 {frame:[1073,1358,630,863], yr:[-0.039,1.173], yt:Y_TICKS_UNIT, ytt:Y_TEXT_UNIT, title:PACK_T, order:ORDER_B, leg:[1216,694], kind:'pack',
  s:{randomized_first:P(f2_rf,f2_rf_sd), analytic:P(f2_ana,f2_ana_sd), randomized_zero:P(f2_rz,f2_rz_sd), exact:P(f2_exa,f2_exa_sd), no_contact:P(f2_noc,f2_noc_sd), global:P(f2_glo,f2_glo_sd)}}
];
const CAPTION_POS = [[342,291],[1026,291],[342,601],[1026,601],[343,911],[1026,911]];

function rgba(hex,a){const n=parseInt(hex.slice(1),16);return 'rgba('+((n>>16)&255)+','+((n>>8)&255)+','+(n&255)+','+a+')';}

const traces = [], shapes = [], annotations = [];
const layout = {width:W, height:H, margin:{l:0,r:0,t:0,b:0}, paper_bgcolor:'#ffffff', plot_bgcolor:'#ffffff', showlegend:false, font:{family:'DejaVu Sans', color:'#000'}, hovermode:false};
const TICKFONT = {family:'DejaVu Sans', size:10.5, color:'#000'};
const TITLEFONT = {family:'DejaVu Sans', size:11, color:'#000'};

PANELS.forEach((p,i)=>{
  const k = i+1, sfx = (k===1?'':String(k));
  const [L,R,T,B] = p.frame;
  const base = {showline:true, mirror:true, linecolor:'#222', linewidth:1, ticks:'outside', ticklen:3.5, tickwidth:1, tickcolor:'#222', showgrid:false, zeroline:false, fixedrange:true, tickfont:TICKFONT, automargin:false};
  layout['xaxis'+sfx] = Object.assign({}, base, {domain:[L/W,R/W], range:[-50,1050], tickmode:'array', tickvals:X_TICKS, ticktext:X_TICK_TEXT, anchor:'y'+sfx, ticklabelstandoff:-3, title:{text:'Iterations', font:TITLEFONT, standoff:2}});
  layout['yaxis'+sfx] = Object.assign({}, base, {domain:[1-B/H,1-T/H], range:p.yr, tickmode:'array', tickvals:p.yt, ticktext:p.ytt, anchor:'x'+sfx, title:{text:p.title, font:TITLEFONT, standoff:0}});
  const xa='x'+sfx, ya='y'+sfx;
  p.order.forEach(name=>{
    const c = COLORS[name], d = p.s[name];
    let mx,my,bx,bc,bs;
    if(p.kind==='dist'){ mx=d.x; my=d.y; bx=d.x; bc=d.y; bs=d.s; }
    else { mx=ITER; my=d.m; bx=BAND_ITER; bc=BAND_ITER.map(v=>d.m[ITER.indexOf(v)]); bs=d.sd; }
    traces.push({type:'scatter', mode:'lines', x:bx, y:bc.map((v,j)=>v-bs[j]), xaxis:xa, yaxis:ya, line:{width:0,color:c}, hoverinfo:'skip', showlegend:false});
    traces.push({type:'scatter', mode:'lines', x:bx, y:bc.map((v,j)=>v+bs[j]), xaxis:xa, yaxis:ya, line:{width:0,color:c}, fill:'tonexty', fillcolor:rgba(c,0.09), hoverinfo:'skip', showlegend:false});
    traces.push({type:'scatter', mode:'lines', name:name, x:mx, y:my, xaxis:xa, yaxis:ya, line:{color:c, width:p.kind==='dist'?1.4:1.7}, opacity:(p.alpha||1), showlegend:false});
  });
  // legend box (matplotlib style)
  const [LL,LT] = p.leg, LW=136, LH=103;
  shapes.push({type:'rect', xref:'paper', yref:'paper', x0:LL/W, x1:(LL+LW)/W, y0:1-(LT+LH)/H, y1:1-LT/H, fillcolor:'rgba(255,255,255,0.8)', line:{color:'#cccccc', width:1}, layer:'above'});
  p.order.forEach((name,j)=>{
    const cy = LT + 8.8 + j*16.6;
    shapes.push({type:'line', xref:'paper', yref:'paper', x0:(LL+4.5)/W, x1:(LL+27.5)/W, y0:1-cy/H, y1:1-cy/H, line:{color:COLORS[name], width:1.5}, layer:'above'});
    annotations.push({xref:'paper', yref:'paper', x:(LL+33)/W, y:1-cy/H, xanchor:'left', yanchor:'middle', text:name, showarrow:false, font:{family:'DejaVu Sans', size:10.5, color:'#000'}});
  });
});
CAPTIONS.forEach((t,i)=>{
  annotations.push({xref:'paper', yref:'paper', x:CAPTION_POS[i][0]/W, y:1-CAPTION_POS[i][1]/H, xanchor:'center', yanchor:'middle', text:t, showarrow:false, font:{family:'Liberation Serif', size:24, color:'#000'}});
});
layout.shapes = shapes; layout.annotations = annotations;
Plotly.newPlot('chart', traces, layout, {staticPlot:true, displayModeBar:false});
</script></body></html>
